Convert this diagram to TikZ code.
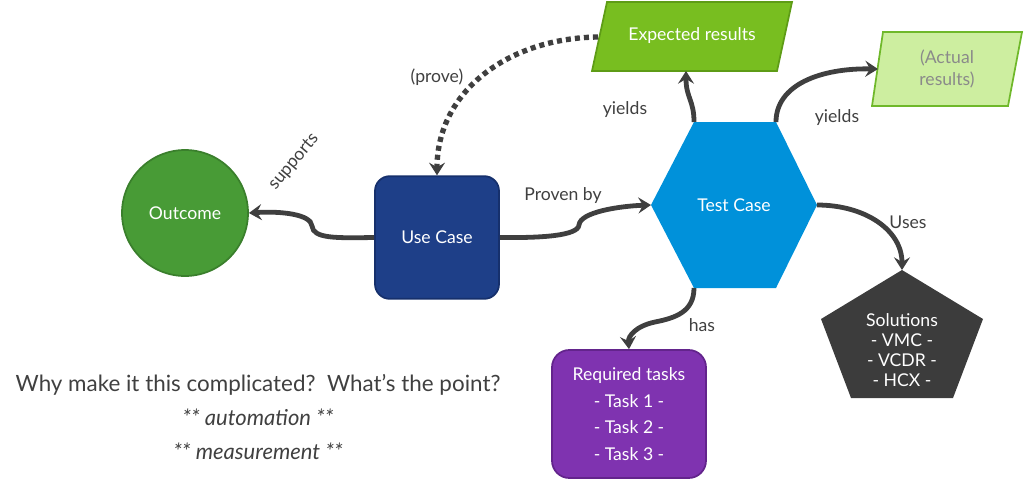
\documentclass[tikz,border=0pt]{standalone}
\usepackage{fontspec}
\setmainfont{Lato}
\usetikzlibrary{arrows.meta}
\definecolor{outf}{HTML}{489B36}
\definecolor{outb}{HTML}{3A7F2C}
\definecolor{ucf}{HTML}{1E3F88}
\definecolor{ucb}{HTML}{16306C}
\definecolor{tcf}{HTML}{0091DA}
\definecolor{tcb}{HTML}{0080C4}
\definecolor{erf}{HTML}{78BE20}
\definecolor{erb}{HTML}{5E9C16}
\definecolor{arf}{HTML}{CDEEA0}
\definecolor{arb}{HTML}{6FB82A}
\definecolor{art}{HTML}{8A8A8A}
\definecolor{solf}{HTML}{3C3C3C}
\definecolor{rtf}{HTML}{7F33B0}
\definecolor{rtb}{HTML}{63248C}
\definecolor{arrowc}{HTML}{3F3F3F}
\definecolor{labelc}{HTML}{404040}
\begin{document}
\begin{tikzpicture}[x=0.75pt,y=-0.75pt,
  conn/.style={draw=arrowc, line width=3.6pt, -{Stealth[length=9.5pt,width=12pt,inset=3.5pt]}},
  dotconn/.style={draw=arrowc, line width=4pt, dash pattern=on 3.8pt off 3pt, -{Stealth[length=9.5pt,width=12pt,inset=3.5pt]}},
  lbl/.style={text=labelc, font=\fontsize{13.2}{15}\selectfont},
  intxt/.style={text=white, font=\fontsize{13.2}{15}\selectfont, align=center},
  shapeline/.style={line width=1.3pt}]
\useasboundingbox (0,0) rectangle (1024,479);

% Outcome
\node[circle, draw=outb, fill=outf, shapeline, minimum size=94.5pt, inner sep=0pt, intxt] (out) at (185,213) {Outcome};

% Use Case
\node[rectangle, rounded corners=11pt, draw=ucb, fill=ucf, shapeline, minimum width=93pt, minimum height=92pt, intxt] (uc) at (437,237.5) {Use Case};

% Test Case hexagon
\fill[tcf] (694,122) -- (776,122) -- (817,205) -- (776,288) -- (694,288) -- (651,205) -- cycle;
\node[intxt] (tc) at (734,205) {Test Case};
\coordinate (tcL) at (651,205);
\coordinate (tcR) at (817,205);
\coordinate (tcTL) at (694,122);
\coordinate (tcTR) at (776,122);
\coordinate (tcBL) at (694,288);

% Expected results
\draw[draw=erb, fill=erf, shapeline] (607,2) -- (792,2) -- (777,71) -- (592,71) -- cycle;
\node[intxt] (er) at (692,36) {Expected results};
\coordinate (erL) at (598,37);
\coordinate (erB) at (686,71);

% Actual results
\draw[draw=arb, fill=arf, shapeline] (883,32) -- (1022,32) -- (1008,106) -- (872,106) -- cycle;
\node[intxt, text=art, font=\fontsize{13.2}{17}\selectfont] (ar) at (947,69) {(Actual\\results)};
\coordinate (arL) at (878,69);

% Solutions pentagon
\fill[solf] (902,270) -- (983,319) -- (953,398) -- (851,398) -- (821,319) -- cycle;
\node[text=white, font=\fontsize{13.2}{15}\selectfont, align=center] (sol) at (902,350) {Solutions\\- VMC -\\- VCDR -\\- HCX -};
\coordinate (solT) at (902,270);

% Required tasks
\node[rectangle, rounded corners=13pt, draw=rtb, fill=rtf, shapeline, minimum width=115.5pt, minimum height=96pt, text=white, font=\fontsize{13.2}{20}\selectfont, align=center] (rt) at (629,414) {Required tasks\\- Task 1 -\\- Task 2 -\\- Task 3 -};

% Connectors
\draw[conn] (uc.west) .. controls (338,238) and (313,239) .. (312,226) .. controls (311,214) and (280,211) .. (out.east);
\draw[conn] (uc.east) .. controls (540,238) and (578,236) .. (579,225) .. controls (580,212) and (620,206) .. (tcL);
\draw[conn] (tcTL) .. controls (694,100) and (686,98) .. (erB);
\draw[conn] (tcTR) .. controls (776,85) and (820,68) .. (arL);
\draw[conn] (tcR) .. controls (865,205) and (902,230) .. (solT);
\draw[conn] (tcBL) .. controls (694,312) and (675,318) .. (655,322) .. controls (636,326) and (628,336) .. (rt.north);
\draw[dotconn] (erL) .. controls (510,38) and (437,90) .. (uc.north);

% Labels
\node[lbl, rotate=50] (lsup) at (294,162) {supports};
\node[lbl] (lprove) at (437,77) {(prove)};
\node[lbl] (lproven) at (563,196) {Proven by};
\node[lbl] (lyl) at (625,110) {yields};
\node[lbl] (lyr) at (837,118) {yields};
\node[lbl] (luses) at (908,222) {Uses};
\node[lbl] (lhas) at (702,325) {has};

% Bottom text
\node[text=labelc, font=\fontsize{16.8}{19}\selectfont] (why) at (258,385) {Why make it this complicated?\ \ What’s the point?};
\node[text=labelc, font=\fontsize{16.5}{19}\selectfont\itshape] (auto) at (258,417) {** automation **};
\node[text=labelc, font=\fontsize{16.5}{19}\selectfont\itshape] (meas) at (258,451) {** measurement **};
\end{tikzpicture}
\end{document}
